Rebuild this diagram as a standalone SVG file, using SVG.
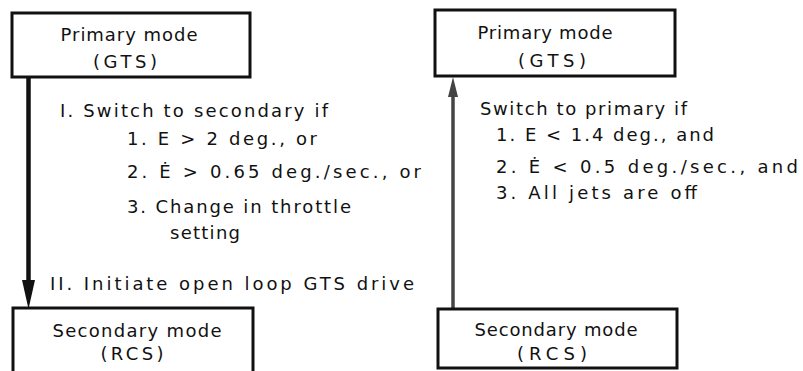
<svg xmlns="http://www.w3.org/2000/svg" width="803" height="371" viewBox="0 0 803 371">
<style>
.box{fill:#fff;stroke:#111;stroke-width:3}
.t{font-family:"DejaVu Sans",sans-serif;font-size:18px;fill:#111}
.c{text-anchor:middle}
</style>
<rect width="803" height="371" fill="#fff"/>
<g id="connectors">
<line x1="28.5" y1="77" x2="28.5" y2="285" stroke="#111" stroke-width="4.5"/>
<polygon points="22,280 35,280 28.5,309" fill="#111"/>
<line x1="453" y1="92" x2="453" y2="309" stroke="#444" stroke-width="3.5"/>
<polygon points="448,97 458,97 453,77" fill="#444"/>
</g>
<g id="primary-left">
<rect class="box" x="12" y="13" width="238" height="64"/>
<text class="t c" x="129" y="41" textLength="137" lengthAdjust="spacing">Primary mode</text>
<text class="t c" x="125" y="68" textLength="64" lengthAdjust="spacing">(GTS)</text>
</g>
<g id="secondary-left">
<rect class="box" x="13" y="308" width="240" height="72"/>
<text class="t c" x="137" y="337" textLength="169" lengthAdjust="spacing">Secondary mode</text>
<text class="t c" x="132" y="360" textLength="63" lengthAdjust="spacing">(RCS)</text>
</g>
<g id="primary-right">
<rect class="box" x="435" y="10" width="240" height="66"/>
<text class="t c" x="545" y="39" textLength="135" lengthAdjust="spacing">Primary mode</text>
<text class="t c" x="552" y="67" textLength="68" lengthAdjust="spacing">(GTS)</text>
</g>
<g id="secondary-right">
<rect class="box" x="438" y="309" width="239" height="59"/>
<text class="t c" x="556" y="336" textLength="163" lengthAdjust="spacing">Secondary mode</text>
<text class="t c" x="552" y="360" textLength="70" lengthAdjust="spacing">(RCS)</text>
</g>
<g id="labels-left">
<text class="t" x="60" y="117" textLength="268" lengthAdjust="spacing">I. Switch to secondary if</text>
<text class="t" x="127" y="145" textLength="190" lengthAdjust="spacing">1. E &gt; 2 deg., or</text>
<text class="t" x="127" y="178" textLength="294" lengthAdjust="spacing">2. Ė &gt; 0.65 deg./sec., or</text>
<text class="t" x="127" y="213" textLength="224" lengthAdjust="spacing">3. Change in throttle</text>
<text class="t" x="170" y="239" textLength="70" lengthAdjust="spacing">setting</text>
<text class="t" x="50" y="290" textLength="364" lengthAdjust="spacing">II. Initiate open loop GTS drive</text>
</g>
<g id="labels-right">
<text class="t" x="480" y="115" textLength="207" lengthAdjust="spacing">Switch to primary if</text>
<text class="t" x="496" y="141" textLength="218" lengthAdjust="spacing">1. E &lt; 1.4 deg., and</text>
<text class="t" x="496" y="173" textLength="302" lengthAdjust="spacing">2. Ė &lt; 0.5 deg./sec., and</text>
<text class="t" x="496" y="199" textLength="201" lengthAdjust="spacing">3. All jets are off</text>
</g>
</svg>
